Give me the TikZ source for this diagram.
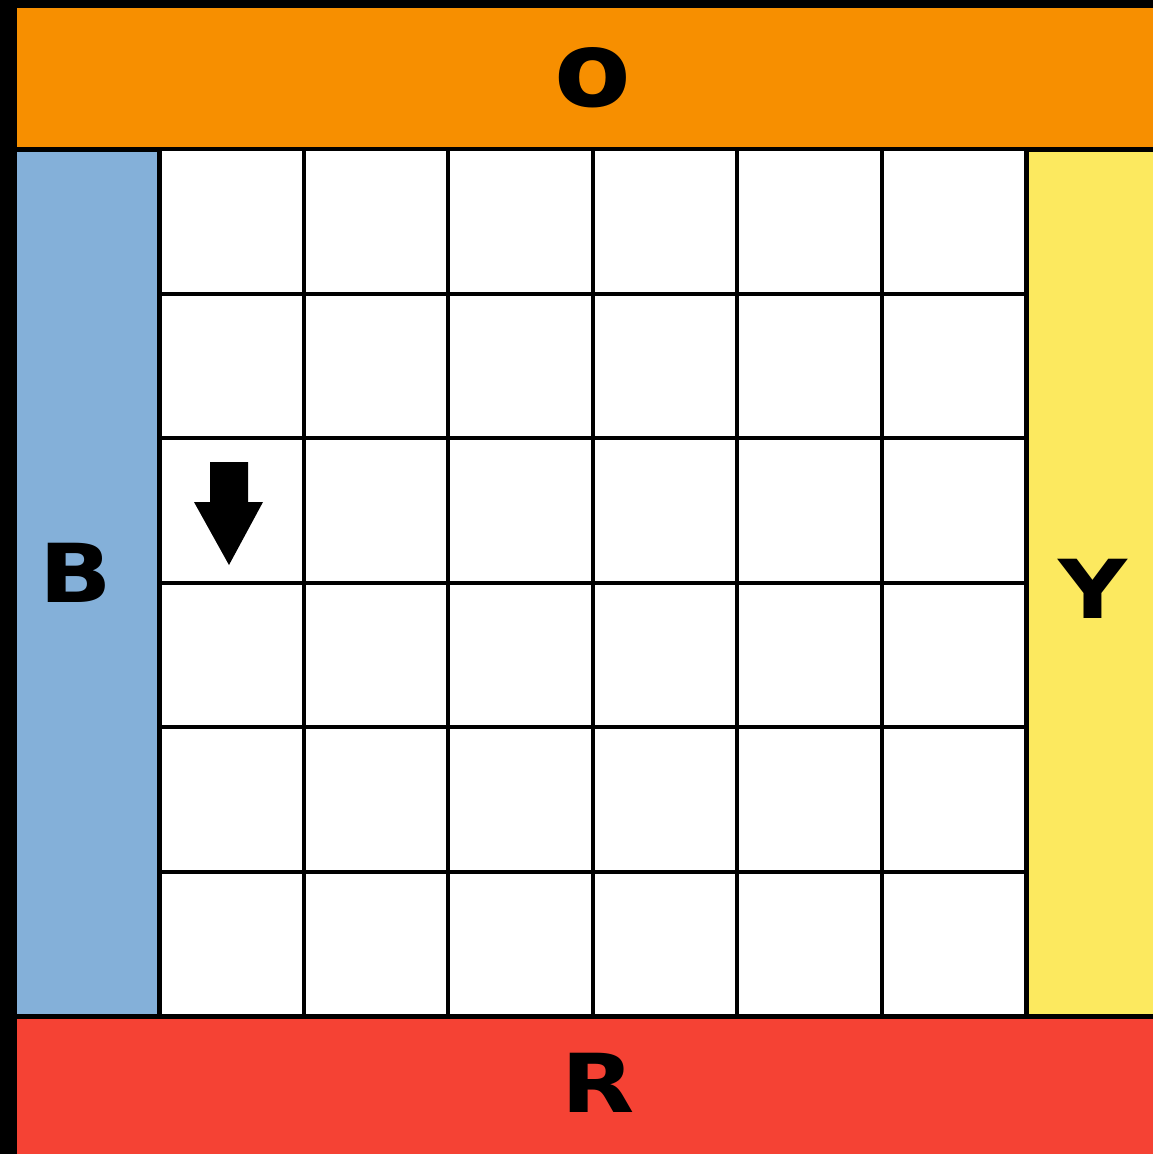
\documentclass[tikz,border=0pt]{standalone}
\usepackage{fontspec}
\newfontfamily\bandfont{DejaVu Sans}
\definecolor{bandorange}{RGB}{247,143,0}
\definecolor{bandblue}{RGB}{132,176,217}
\definecolor{bandyellow}{RGB}{252,233,95}
\definecolor{bandred}{RGB}{245,66,52}
\newcommand{\wideletter}[2][1.17]{\scalebox{#1}[1]{#2}}

\begin{document}
\begin{tikzpicture}[x=0.75pt,y=0.75pt,yscale=-1,xscale=1,
  gridline/.style={line width=3pt,black},
  bandlabel/.style={inner sep=0pt,font=\bandfont\bfseries\fontsize{61}{61}\selectfont}]
\useasboundingbox (0,0) rectangle (1153,1154);

%Shape: Frame
\fill [black] (0,0) rectangle (1153,1154);
%Shape: Rectangle [orange band]
\fill [bandorange] (17,8) rectangle (1153,146.5);
%Shape: Rectangle [blue band]
\fill [bandblue] (17,151.5) rectangle (157,1014);
%Shape: Rectangle [yellow band]
\fill [bandyellow] (1028.5,151.5) rectangle (1153,1014);
%Shape: Rectangle [red band]
\fill [bandred] (17,1019) rectangle (1153,1154);

%Shape: Grid 6x6
\fill [white] (159.5,149) rectangle (1026,1016.5);
\foreach \i in {0,...,6} {
  \draw [gridline] (159.5+144.42*\i,149) -- (159.5+144.42*\i,1016.5) ;
  \draw [gridline] (159.5,149+144.58*\i) -- (1026,149+144.58*\i) ;
}

%Shape: Arrow [down]
\fill [black] (210,462) -- (248,462) -- (248,502) -- (263,502) -- (229,565) -- (194,502) -- (210,502) -- cycle ;

% Text Node
\node [bandlabel] (labO) at (593,78) {\fontsize{79}{79}\selectfont\wideletter[1.06]{o}};
% Text Node
\node [bandlabel] (labB) at (76,573) {\wideletter{B}};
% Text Node
\node [bandlabel] (labY) at (1093,589) {\wideletter{Y}};
% Text Node
\node [bandlabel] (labR) at (598,1083) {\wideletter{R}};

\end{tikzpicture}
\end{document}
